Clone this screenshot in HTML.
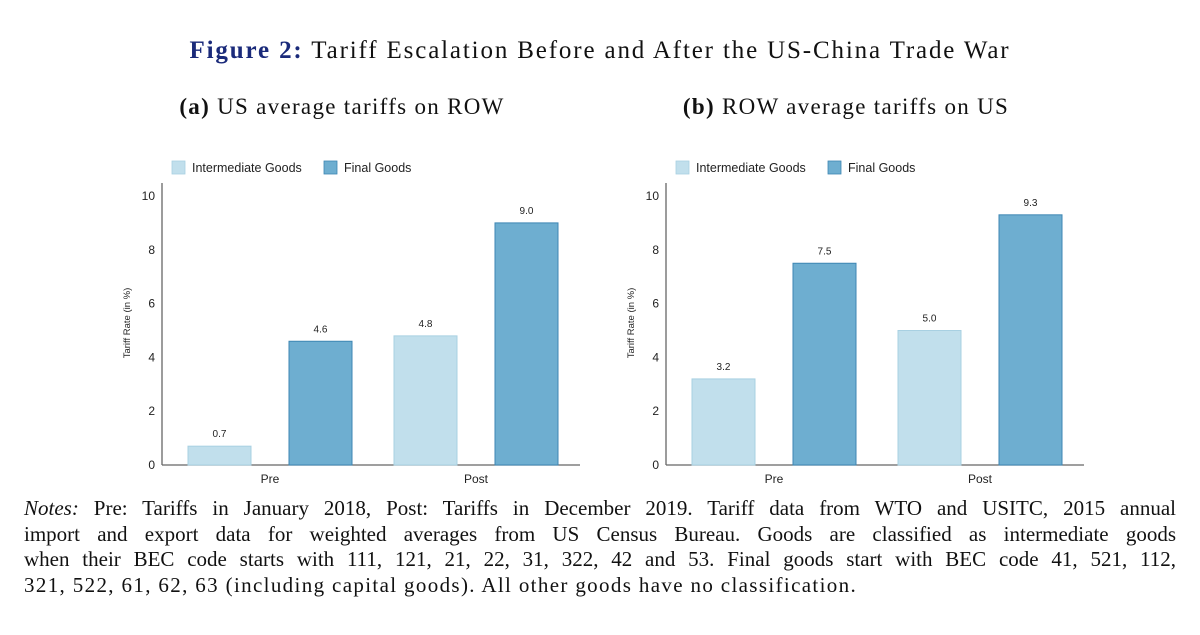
<!DOCTYPE html>
<html><head><meta charset="utf-8"><style>
body{margin:0;background:#fff;width:1200px;height:635px;overflow:hidden;font-family:"Liberation Serif",serif;}
#title{position:absolute;top:37px;left:0;width:1200px;text-align:center;font-size:25px;letter-spacing:1.85px;color:#111;white-space:nowrap;}
#title b{color:#1a2a7a;}
.sub{position:absolute;top:94px;font-size:23px;letter-spacing:1.3px;color:#111;white-space:nowrap;transform:translateX(-50%);}
#notes{position:absolute;left:24px;top:496px;width:1152px;font-size:21px;line-height:25.6px;color:#111;}
#notes div{text-align:justify;text-align-last:justify;white-space:nowrap;}
#notes div.last{text-align-last:left;letter-spacing:1.35px;}
svg{position:absolute;left:0;top:0;}
</style></head><body>
<div id="title"><b>Figure 2:</b> Tariff Escalation Before and After the US-China Trade War</div>
<div class="sub" style="left:342px"><b>(a)</b> US average tariffs on ROW</div>
<div class="sub" style="left:846px"><b>(b)</b> ROW average tariffs on US</div>
<svg id="chart" width="1200" height="635"></svg>
<div id="notes">
<div><i>Notes:</i> Pre: Tariffs in January 2018, Post: Tariffs in December 2019. Tariff data from WTO and USITC, 2015 annual</div>
<div>import and export data for weighted averages from US Census Bureau. Goods are classified as intermediate goods</div>
<div>when their BEC code starts with 111, 121, 21, 22, 31, 322, 42 and 53. Final goods start with BEC code 41, 521, 112,</div>
<div class="last">321, 522, 61, 62, 63 (including capital goods). All other goods have no classification.</div>
</div>
<script>
const categories=["Pre","Post"];
const seriesNames=["Intermediate Goods","Final Goods"];
const usInter=[0.7,4.8];
const usFinal=[4.6,9.0];
const rowInter=[3.2,5.0];
const rowFinal=[7.5,9.3];
const yTicks=[0,2,4,6,8,10];
const NS="http://www.w3.org/2000/svg";
const svg=document.getElementById('chart');
const colors=["#c1dfec","#6eaed0"],strokes=["#a8d0e2","#3d86b3"];
function mk(tag,attrs,parent){const e=document.createElementNS(NS,tag);for(const k in attrs)e.setAttribute(k,attrs[k]);(parent||svg).appendChild(e);return e;}
function panel(x0,inter,fin,key){
  const g=mk('g',{});
  
  
  const y0=465,pxPer=26.9;
  const y=v=>y0-v*pxPer;
  const ax=x0;
  const xl=mk('line',{x1:ax,y1:y0,x2:ax+418,y2:y0,stroke:'#666','stroke-width':1.3},g);
  
  const yl=mk('line',{x1:ax,y1:183,x2:ax,y2:y0,stroke:'#666','stroke-width':1.3},g);
  
  yTicks.forEach(t=>{const tx=mk('text',{x:ax-7,y:y(t)+4,'text-anchor':'end','font-size':12,'font-family':'Liberation Sans, sans-serif',fill:'#222'},g);tx.textContent=t;
    });
  const yt=mk('text',{transform:`translate(${ax-32},323) rotate(-90)`,'text-anchor':'middle','font-size':9.5,'font-family':'Liberation Sans, sans-serif',fill:'#222'},g);
  yt.textContent='Tariff Rate (in %)';
  
  const bw=63;
  const groupW=206;
  categories.forEach((c,i)=>{
    [inter,fin].forEach((arr,s)=>{
      const bx=ax+26+i*groupW+s*101;
      const v=arr[i];
      const r=mk('rect',{x:bx,y:y(v),width:bw,height:v*pxPer,fill:colors[s],stroke:strokes[s],'stroke-width':1},g);
      
      
      const lt=mk('text',{x:bx+bw/2,y:y(v)-9,'text-anchor':'middle','font-size':10,'font-family':'Liberation Sans, sans-serif',fill:'#222'},g);
      lt.textContent=v.toFixed(1);
      
    });
    const cx=ax+26+i*groupW+(101+bw)/2;
    const ct=mk('text',{x:cx,y:483,'text-anchor':'middle','font-size':12,'font-family':'Liberation Sans, sans-serif',fill:'#222'},g);
    ct.textContent=c;
    
  });
  [[10,30],[162,182]].forEach((p,s)=>{
    const sw=mk('rect',{x:ax+p[0],y:161,width:13,height:13,fill:colors[s],stroke:strokes[s],'stroke-width':0.8},g);
    
    const lt=mk('text',{x:ax+p[1],y:172,'font-size':12.5,'font-family':'Liberation Sans, sans-serif',fill:'#222'},g);
    lt.textContent=seriesNames[s];
    
  });
}
panel(162,usInter,usFinal,'us-on-row');
panel(666,rowInter,rowFinal,'row-on-us');
</script>
</body></html>
